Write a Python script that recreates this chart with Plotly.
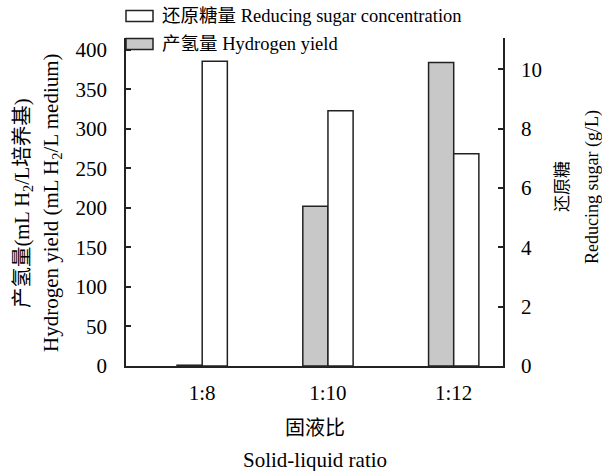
import plotly.graph_objects as go

categories = ["1:8", "1:10", "1:12"]
hydrogen_yield = [1, 202, 384]          # mL H2/L medium (left axis)
reducing_sugar = [10.27, 8.6, 7.15]     # g/L (right axis)

W, H = 602, 471
L, R, T, B = 126, 99, 38, 105
PW, PH = W - L - R, H - T - B

def px(x):
    return (x - L) / PW

def py(y):
    return (H - B - y) / PH

FONT = "Liberation Serif, Times New Roman, Noto Sans CJK SC, serif"
GRAY = "#c8c8c8"
LINE = "#222222"

fig = go.Figure()
fig.add_trace(go.Bar(
    x=categories, y=hydrogen_yield, yaxis="y", width=0.2, offset=-0.2,
    marker=dict(color=GRAY, line=dict(color=LINE, width=1.5)),
    showlegend=False, name="产氢量 Hydrogen yield"))
fig.add_trace(go.Bar(
    x=categories, y=reducing_sugar, yaxis="y2", width=0.2, offset=0.0,
    marker=dict(color="white", line=dict(color=LINE, width=1.5)),
    showlegend=False, name="还原糖量 Reducing sugar concentration"))

axis_common = dict(showgrid=False, zeroline=False, showline=True,
                   linecolor=LINE, linewidth=1.5, ticks="inside", ticklen=5,
                   tickcolor=LINE, tickwidth=1.5,
                   tickfont=dict(family=FONT, size=21, color="black"))

fig.update_layout(
    width=W, height=H,
    margin=dict(l=L, r=R, t=T, b=B, pad=0),
    paper_bgcolor="white", plot_bgcolor="white",
    barmode="overlay",
    font=dict(family=FONT, color="black"),
    xaxis=dict(type="category", range=[-0.606, 2.392], showgrid=False,
               zeroline=False, showline=True, linecolor=LINE, linewidth=1.5,
               ticks="", ticklabelstandoff=7,
               tickfont=dict(family=FONT, size=21, color="black")),
    yaxis=dict(range=[0, 415], tickvals=list(range(0, 401, 50)),
               ticklabelstandoff=13, **axis_common),
    yaxis2=dict(range=[0, 11.05], tickvals=list(range(0, 11, 2)),
                overlaying="y", side="right", ticklabelstandoff=12,
                **axis_common),
)

# legend drawn manually (wide rectangular swatches)
legend_items = [
    ("还原糖量 Reducing sugar concentration", "white", 16),
    ("产氢量 Hydrogen yield", GRAY, 44),
]
for label, color, yc in legend_items:
    fig.add_shape(type="rect", xref="paper", yref="paper",
                  x0=px(126), x1=px(153), y0=py(yc - 5.5), y1=py(yc + 5.5),
                  fillcolor=color, line=dict(color=LINE, width=1.5))
    fig.add_annotation(text=label, xref="paper", yref="paper",
                       x=px(160), y=py(yc), xanchor="left", yanchor="middle",
                       showarrow=False,
                       font=dict(family=FONT, size=18.5, color="black"))

titles = [
    ("产氢量(mL H<sub>2</sub>/L培养基)", 23, 203, -90, 20.5),
    ("Hydrogen yield (mL H<sub>2</sub>/L medium)", 52, 203, -90, 21),
    ("还原糖", 562, 187, -90, 17),
    ("Reducing sugar (g/L)", 592, 187, -90, 18),
    ("固液比", 314.5, 428, 0, 20),
    ("Solid-liquid ratio", 314.5, 460, 0, 21),
]
for text, x, y, ang, size in titles:
    fig.add_annotation(text=text, xref="paper", yref="paper",
                       x=px(x), y=py(y), xanchor="center", yanchor="middle",
                       textangle=ang, showarrow=False,
                       font=dict(family=FONT, size=size, color="black"))

fig.write_html("out.html",
               config={"displayModeBar": False},
               post_script="document.body.style.margin='0';"
                           "document.body.style.overflow='hidden';")
